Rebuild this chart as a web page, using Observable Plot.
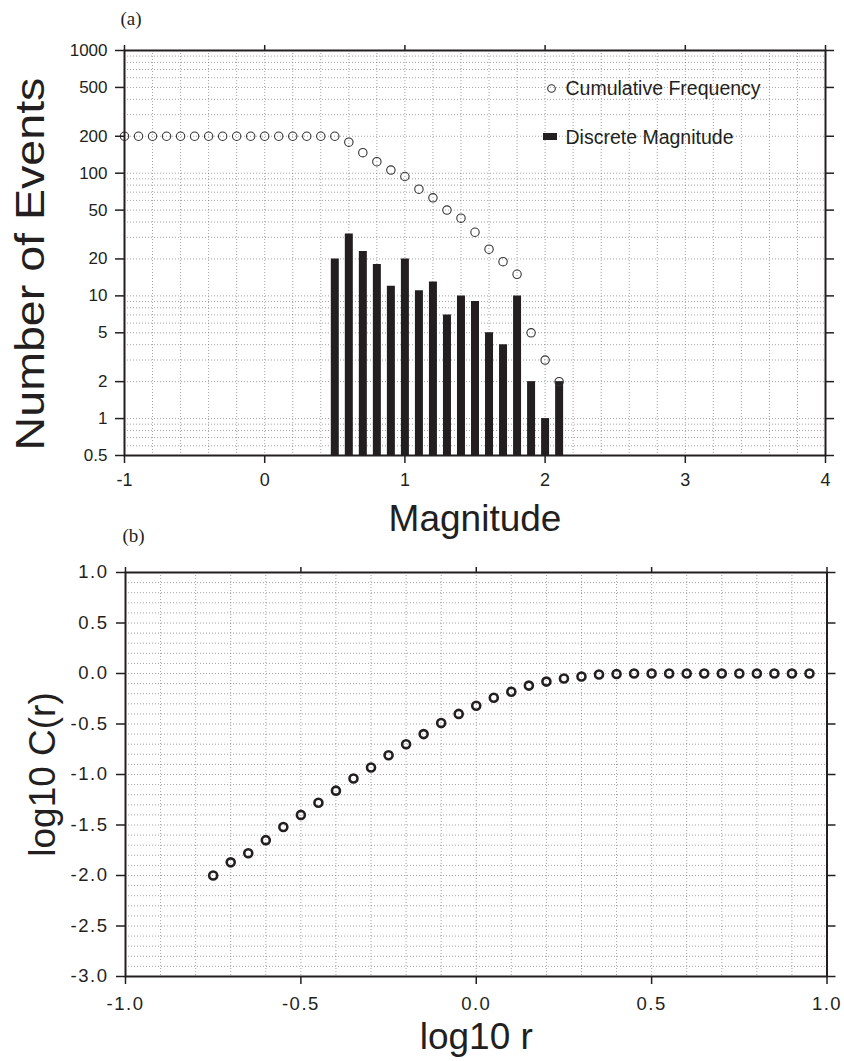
<!DOCTYPE html>
<html><head><meta charset="utf-8">
<script src="https://cdn.jsdelivr.net/npm/d3@7"></script>
<script src="https://cdn.jsdelivr.net/npm/@observablehq/plot@0.6"></script>
<style>
body{margin:0;background:#fff;}
#wrap{width:844px;height:1061px;position:relative;overflow:hidden;background:#fff;}
#wrap svg{display:block;overflow:visible;}
</style></head><body><div id="wrap"></div>
<script>
// ---- Panel (a) data ----
const cumMag = [-1.0,-0.9,-0.8,-0.7,-0.6,-0.5,-0.4,-0.3,-0.2,-0.1,0.0,0.1,0.2,0.3,0.4,0.5,0.6,0.7,0.8,0.9,1.0,1.1,1.2,1.3,1.4,1.5,1.6,1.7,1.8,1.9,2.0,2.1];
const cumCount = [200,200,200,200,200,200,200,200,200,200,200,200,200,200,200,200,179,147,124,106,94,74,63,50,43,33,24,19,15,5,3,2];
const binMag = [0.5,0.6,0.7,0.8,0.9,1.0,1.1,1.2,1.3,1.4,1.5,1.6,1.7,1.8,1.9,2.0,2.1];
const binCount = [20,32,23,18,12,20,11,13,7,10,9,5,4,10,2,1,2];
const xTicksA = [-1,0,1,2,3,4];
const yTicksA = [0.5,1,2,5,10,20,50,100,200,500,1000];
const legendA = ["Cumulative Frequency","Discrete Magnitude"];

// ---- Panel (b) data ----
const logR = [-0.75,-0.70,-0.65,-0.60,-0.55,-0.50,-0.45,-0.40,-0.35,-0.30,-0.25,-0.20,-0.15,-0.10,-0.05,0.00,0.05,0.10,0.15,0.20,0.25,0.30,0.35,0.40,0.45,0.50,0.55,0.60,0.65,0.70,0.75,0.80,0.85,0.90,0.95];
const logC = [-2.00,-1.87,-1.78,-1.65,-1.52,-1.40,-1.28,-1.16,-1.04,-0.93,-0.81,-0.70,-0.60,-0.49,-0.40,-0.32,-0.24,-0.18,-0.12,-0.08,-0.05,-0.03,-0.01,-0.005,0,0,0,0,0,0,0,0,0,0,0];
const xTicksB = [-1,-0.5,0,0.5,1];
const yTicksB = [1,0.5,0,-0.5,-1,-1.5,-2,-2.5,-3];

const cum = cumMag.map((m,i)=>({m, n:cumCount[i]}));
const bins = binMag.map((m,i)=>({m, n:binCount[i]}));
const corr = logR.map((r,i)=>({r, c:logC[i]}));

const ink = "#231f20";
const sans = "'Liberation Sans', Arial, Helvetica, sans-serif";
const serif = "'Liberation Serif', 'Times New Roman', serif";
const gridStyle = {stroke:"#555", strokeOpacity:0.6, strokeDasharray:"1,2", strokeWidth:0.9};

const gridXA = d3.range(-10, 41, 2).map(d=>d/10);
const gridYA = d3.scaleLog().domain([0.5,1000]).ticks();
const gridXB = d3.range(-10, 11, 1).map(d=>d/10);
const gridYB = d3.range(-30, 11, 1).map(d=>d/10);

const p1 = Plot.plot({
  width:844, height:520,
  marginTop:50, marginBottom:65, marginLeft:124, marginRight:19,
  style:{fontFamily:sans, fontSize:"17px", color:ink, background:"white", overflow:"visible"},
  x:{domain:[-1,4], label:null},
  y:{type:"log", domain:[0.5,1000], label:null},
  marks:[
    Plot.gridX({ticks:gridXA, ...gridStyle}),
    Plot.gridY({ticks:gridYA, ...gridStyle}),
    Plot.ruleX(bins, {x:"m", y1:0.5, y2:"n", stroke:ink, strokeWidth:8}),
    Plot.dot(cum, {x:"m", y:"n", r:4.2, stroke:"#333", strokeWidth:1.1, fill:"none"}),
    Plot.axisY({anchor:"left", ticks:yTicksA, tickFormat:()=>"", tickSize:9, strokeWidth:1.5, label:null}),
    Plot.text(yTicksA, {y:d=>d, frameAnchor:"left", dx:-17, textAnchor:"end", lineAnchor:"middle", text:d=>String(d), fontSize:17, fill:ink}),
    Plot.axisY({anchor:"right", ticks:yTicksA, tickFormat:()=>"", tickSize:8, strokeWidth:1.5, label:null}),
    Plot.axisX({anchor:"bottom", ticks:xTicksA, tickFormat:d=>String(d), tickSize:8, tickPadding:10, strokeWidth:1.5, fontSize:18, label:null}),
    Plot.axisX({anchor:"top", ticks:xTicksA, tickFormat:()=>"", tickSize:6, strokeWidth:1.5, label:null}),
    Plot.frame({stroke:ink, strokeWidth:2}),
    // legend
    Plot.dot([legendA[0]], {frameAnchor:"top-left", dx:427, dy:38, r:3.8, stroke:"#333", strokeWidth:1.1, fill:"none"}),
    Plot.text([legendA[0]], {frameAnchor:"top-left", dx:441, dy:38, textAnchor:"start", lineAnchor:"middle", fontSize:19.5, fill:ink}),
    Plot.text([legendA[1]], {frameAnchor:"top-left", dx:441, dy:87, textAnchor:"start", lineAnchor:"middle", fontSize:19.5, fill:ink}),
    // axis titles
    Plot.text(["Magnitude"], {frameAnchor:"bottom", dy:75, textAnchor:"middle", lineAnchor:"bottom", fontSize:37, fill:ink}),
    Plot.text(["Number of Events"], {frameAnchor:"left", dx:-81, dy:11, rotate:-90, textAnchor:"middle", lineAnchor:"bottom", fontSize:40, fill:ink}),
    Plot.text(["(a)"], {frameAnchor:"top-left", dx:-4, dy:-26, textAnchor:"start", lineAnchor:"bottom", fontFamily:serif, fontSize:19, fill:ink})
  ]
});

const p2 = Plot.plot({
  width:844, height:541,
  marginTop:52, marginBottom:85, marginLeft:125, marginRight:17.5,
  style:{fontFamily:sans, fontSize:"18.5px", color:ink, background:"white", overflow:"visible"},
  x:{domain:[-1,1], label:null},
  y:{domain:[-3,1], label:null},
  marks:[
    Plot.gridX({ticks:gridXB, ...gridStyle}),
    Plot.gridY({ticks:gridYB, ...gridStyle}),
    Plot.dot(corr, {x:"r", y:"c", r:4, stroke:ink, strokeWidth:2.6, fill:"none"}),
    Plot.axisY({anchor:"left", ticks:yTicksB, tickFormat:d=>d.toFixed(1), tickSize:9, tickPadding:8, strokeWidth:1.5, label:null}),
    Plot.axisY({anchor:"right", ticks:yTicksB, tickFormat:()=>"", tickSize:8, strokeWidth:1.5, label:null}),
    Plot.axisX({anchor:"bottom", ticks:xTicksB, tickFormat:d=>d.toFixed(1), tickSize:8, tickPadding:12, strokeWidth:1.5, label:null}),
    Plot.axisX({anchor:"top", ticks:xTicksB, tickFormat:()=>"", tickSize:6, strokeWidth:1.5, label:null}),
    Plot.frame({stroke:ink, strokeWidth:2}),
    Plot.text(["log10 r"], {frameAnchor:"bottom", dy:72, textAnchor:"middle", lineAnchor:"bottom", fontSize:37, fill:ink}),
    Plot.text(["log10 C(r)"], {frameAnchor:"left", dx:-71, rotate:-90, textAnchor:"middle", lineAnchor:"bottom", fontSize:37, fill:ink}),
    Plot.text(["(b)"], {frameAnchor:"top-left", dx:-3, dy:-31, textAnchor:"start", lineAnchor:"bottom", fontFamily:serif, fontSize:19, fill:ink})
  ]
});

const wrap = document.getElementById("wrap");
wrap.appendChild(p1);
wrap.appendChild(p2);

// legend swatch for the discrete-magnitude bars
d3.select(p1).append("rect")
  .attr("x", 543).attr("y", 133).attr("width", 14).attr("height", 7).attr("fill", ink);

// stretch the long y title along its reading direction
d3.select(p1).selectAll("text").filter(function(){return this.textContent==="Number of Events";})
  .each(function(){
    const tr = this.getAttribute("transform") || "";
    this.setAttribute("transform", tr + " scale(1.165,1)");
  });

// wider spacing of panel (b) tick labels
d3.select(p2).selectAll('g[aria-label$="tick label"] text').style("letter-spacing", "1.5px");
</script>
</body></html>
